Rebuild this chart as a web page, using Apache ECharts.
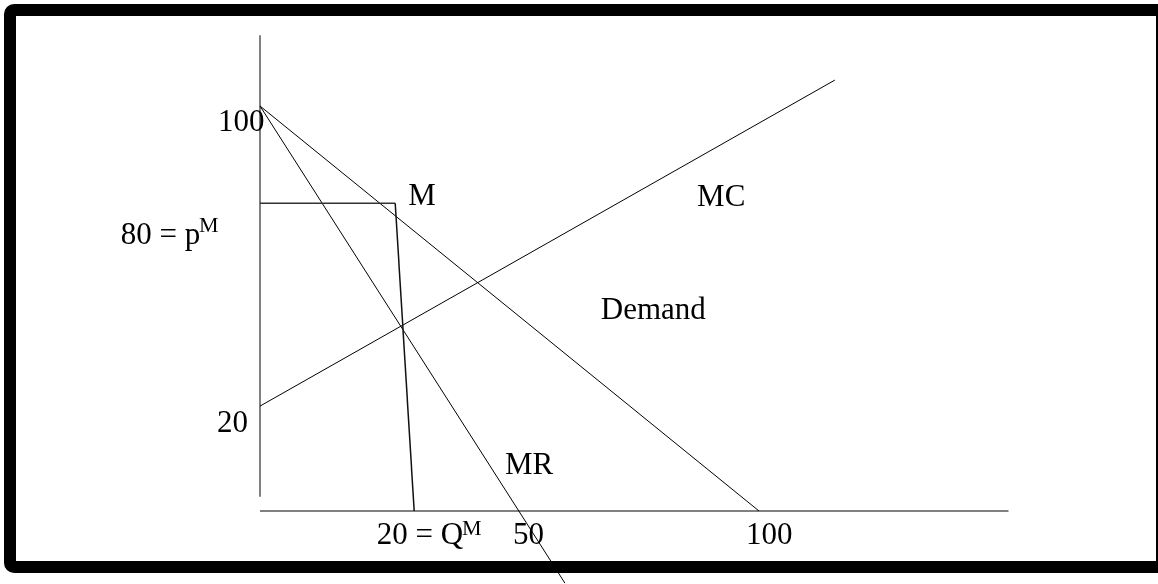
<!DOCTYPE html>
<html>
<head>
<meta charset="utf-8">
<script src="https://cdn.jsdelivr.net/npm/echarts@6/dist/echarts.min.js"></script>
<style>
html,body{margin:0;padding:0;background:#fff;}
#chart{width:1158px;height:584px;}
</style>
</head>
<body>
<div id="chart"></div>
<script>
// Curves (quantity, price)
const yAxisLine = [[0, 3.5], [0, 117.5]];
const xAxisLine = [[0, 0], [150, 0]];
const demand = [[0, 100], [100, 0]];
const marginalRevenue = [[0, 100], [61.1, -17.8]];
const marginalCost = [[0, 25.9], [115.2, 106.4]];
const monopolyPrice = [[0, 76], [27.1, 76]];
const monopolyQuantity = [[27.1, 76], [30.9, 0]];

// Text annotations: [x, y, text, fontSize]
const labels = [
  [-8.4, 96.3, '100', 31],
  [-27.9, 68.4, '80 = p', 31],
  [-12.2, 70.8, 'M', 22],
  [-8.6, 22.0, '20', 31],
  [29.7, 78.0, 'M', 31],
  [87.6, 77.9, 'MC', 31],
  [68.3, 49.9, 'Demand', 31],
  [49.1, 11.6, 'MR', 31],
  [23.4, -5.7, '20 = Q', 31],
  [40.5, -3.9, 'M', 22],
  [50.7, -5.7, '50', 31],
  [97.4, -5.7, '100', 31]
];

const chart = echarts.init(document.getElementById('chart'), null, {renderer: 'canvas'});

function lineSeries(data, color, width) {
  return {
    type: 'line', data: data, symbol: 'none', silent: true, animation: false,
    lineStyle: {color: color, width: width}, z: 2, clip: false
  };
}

chart.setOption({
  backgroundColor: '#fff',
  animation: false,
  grid: {left: 260, top: 25, width: 748.5, height: 558.9, containLabel: false, outerBoundsMode: 'none'},
  xAxis: {type: 'value', min: 0, max: 150, show: false},
  yAxis: {type: 'value', min: -18, max: 120, show: false},
  graphic: [{
    type: 'rect', z: 100,
    shape: {x: 10, y: 10, width: 1152, height: 557, r: 4},
    style: {fill: 'none', stroke: '#000', lineWidth: 12}
  }],
  series: [
    lineSeries(yAxisLine, '#808080', 2),
    lineSeries(xAxisLine, '#808080', 2),
    lineSeries(demand, '#000', 1),
    lineSeries(marginalRevenue, '#000', 1),
    lineSeries(marginalCost, '#000', 1),
    lineSeries(monopolyPrice, '#333', 1.5),
    lineSeries(monopolyQuantity, '#111', 1.5),
    {
      type: 'scatter', silent: true, animation: false, symbolSize: 1, clip: false,
      itemStyle: {color: 'rgba(0,0,0,0)'}, z: 5,
      data: labels.map(l => ({value: [l[0], l[1]], name: l[2],
        label: {fontSize: l[3]}})),
      label: {
        show: true, position: 'inside', align: 'left', verticalAlign: 'middle',
        offset: [0, 2],
        fontFamily: '"Liberation Serif", "Times New Roman", serif',
        color: '#000', opacity: 1,
        formatter: p => p.name
      }
    }
  ]
});
</script>
</body>
</html>
